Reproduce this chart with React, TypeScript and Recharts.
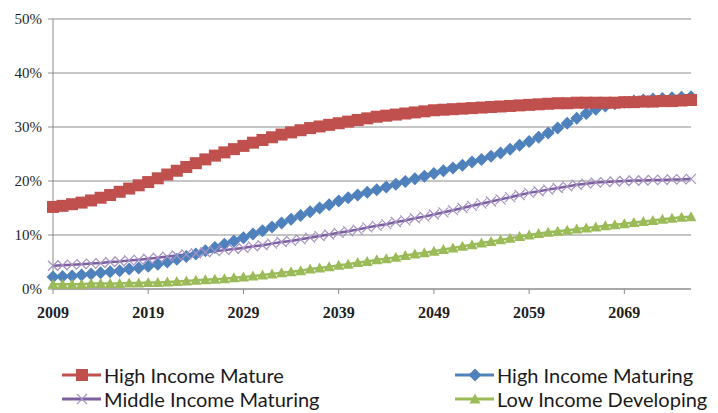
import React from 'react';
import { LineChart, Line, XAxis, YAxis, CartesianGrid } from 'recharts';

// Years on the horizontal axis
const years = [
  2009, 2010, 2011, 2012, 2013, 2014, 2015, 2016, 2017, 2018,
  2019, 2020, 2021, 2022, 2023, 2024, 2025, 2026, 2027, 2028,
  2029, 2030, 2031, 2032, 2033, 2034, 2035, 2036, 2037, 2038,
  2039, 2040, 2041, 2042, 2043, 2044, 2045, 2046, 2047, 2048,
  2049, 2050, 2051, 2052, 2053, 2054, 2055, 2056, 2057, 2058,
  2059, 2060, 2061, 2062, 2063, 2064, 2065, 2066, 2067, 2068,
  2069, 2070, 2071, 2072, 2073, 2074, 2075, 2076,
];

// Share (%) per income group
const highIncomeMature = [
  15.2, 15.4, 15.7, 16.0, 16.4, 16.9, 17.4, 18.0, 18.6, 19.2,
  19.8, 20.5, 21.2, 21.9, 22.6, 23.3, 24.0, 24.7, 25.3, 25.9,
  26.5, 27.1, 27.6, 28.1, 28.6, 29.0, 29.4, 29.8, 30.1, 30.4,
  30.7, 31.0, 31.3, 31.6, 31.9, 32.1, 32.3, 32.5, 32.7, 32.9,
  33.1, 33.2, 33.3, 33.4, 33.5, 33.6, 33.7, 33.8, 33.9, 34.0,
  34.1, 34.2, 34.3, 34.4, 34.4, 34.5, 34.5, 34.5, 34.5, 34.5,
  34.6, 34.6, 34.7, 34.7, 34.8, 34.8, 34.9, 35.0,
];

const highIncomeMaturing = [
  2.2, 2.3, 2.4, 2.6, 2.8, 3.0, 3.2, 3.4, 3.7, 3.9,
  4.2, 4.6, 5.0, 5.5, 6.0, 6.5, 7.1, 7.7, 8.3, 8.9,
  9.5, 10.2, 10.8, 11.5, 12.2, 12.9, 13.6, 14.3, 15.0, 15.6,
  16.3, 16.9, 17.4, 17.9, 18.4, 18.9, 19.4, 19.9, 20.4, 20.9,
  21.4, 21.9, 22.4, 22.9, 23.5, 24.0, 24.6, 25.2, 25.9, 26.6,
  27.3, 28.1, 28.9, 29.8, 30.7, 31.6, 32.5, 33.3, 33.9, 34.3,
  34.6, 34.8, 35.0, 35.2, 35.3, 35.4, 35.5, 35.6,
];

const middleIncomeMaturing = [
  4.3, 4.4, 4.5, 4.6, 4.7, 4.8, 5.0, 5.1, 5.3, 5.4,
  5.6, 5.8, 6.0, 6.2, 6.4, 6.6, 6.8, 7.0, 7.2, 7.4,
  7.6, 7.9, 8.1, 8.4, 8.7, 8.9, 9.2, 9.5, 9.8, 10.1,
  10.4, 10.7, 11.0, 11.4, 11.7, 12.0, 12.4, 12.7, 13.1, 13.4,
  13.8, 14.2, 14.6, 15.0, 15.4, 15.8, 16.2, 16.6, 17.0, 17.4,
  17.8, 18.1, 18.4, 18.7, 19.0, 19.3, 19.5, 19.7, 19.8, 19.9,
  20.0, 20.1, 20.1, 20.2, 20.2, 20.3, 20.3, 20.4,
];

const lowIncomeDeveloping = [
  0.9, 0.9, 0.9, 0.9, 1.0, 1.0, 1.0, 1.0, 1.1, 1.1,
  1.2, 1.2, 1.3, 1.4, 1.5, 1.6, 1.7, 1.8, 1.9, 2.1,
  2.2, 2.4, 2.6, 2.8, 3.0, 3.2, 3.4, 3.7, 3.9, 4.1,
  4.4, 4.6, 4.9, 5.1, 5.4, 5.6, 5.9, 6.2, 6.5, 6.7,
  7.0, 7.3, 7.6, 7.9, 8.2, 8.5, 8.8, 9.1, 9.4, 9.7,
  10.0, 10.3, 10.5, 10.7, 10.9, 11.1, 11.3, 11.5, 11.7, 11.9,
  12.1, 12.3, 12.5, 12.7, 12.9, 13.1, 13.3, 13.4,
];

const xTicks = [2009, 2019, 2029, 2039, 2049, 2059, 2069];
const yTicks = [0, 10, 20, 30, 40, 50];

const RED = '#C0504D';
const BLUE = '#4F81BD';
const PURPLE = '#7D5FA0';
const PURPLE_LIGHT = '#A592C4';
const GREEN = '#9BBB59';
const GRID = '#8C8C8C';
const AXIS_FONT = '"Liberation Serif", "DejaVu Serif", serif';

const data = years.map((year, i) => ({
  year,
  mature: highIncomeMature[i],
  maturing: highIncomeMaturing[i],
  middle: middleIncomeMaturing[i],
  low: lowIncomeDeveloping[i],
}));

type DotProps = { cx?: number; cy?: number; index?: number };
type TickProps = { x?: number; y?: number; payload?: { value: number } };

// Marker shapes, shared by the plot and the legend
const square = (cx: number, cy: number, key?: string) => (
  <rect key={key} x={cx - 6} y={cy - 6} width={12} height={12} fill={RED} />
);
const diamond = (cx: number, cy: number, key?: string) => (
  <path key={key} d={`M${cx},${cy - 6.5}L${cx + 6.5},${cy}L${cx},${cy + 6.5}L${cx - 6.5},${cy}Z`} fill={BLUE} />
);
const cross = (cx: number, cy: number, key?: string) => (
  <path
    key={key}
    d={`M${cx - 5},${cy - 5}L${cx + 5},${cy + 5}M${cx - 5},${cy + 5}L${cx + 5},${cy - 5}`}
    stroke={PURPLE_LIGHT}
    strokeWidth={1.2}
    fill="none"
  />
);
const triangle = (cx: number, cy: number, key?: string) => (
  <path key={key} d={`M${cx},${cy - 5.5}L${cx + 5.5},${cy + 4.5}L${cx - 5.5},${cy + 4.5}Z`} fill={GREEN} />
);

const makeDot = (shape: typeof square, name: string) => (props: DotProps) => {
  const { cx = 0, cy = 0, index = 0 } = props;
  return shape(cx, cy, `${name}-${index}`);
};

const YearTick = ({ x = 0, y = 0, payload }: TickProps) => (
  <text
    x={x}
    y={y + 22}
    textAnchor="middle"
    style={{ fontFamily: AXIS_FONT, fontWeight: 700, fontSize: 16, fill: '#1f1f1f' }}
  >
    {payload?.value}
  </text>
);

const PercentTick = ({ x = 0, y = 0, payload }: TickProps) => (
  <text
    x={x - 4}
    y={y + 5}
    textAnchor="end"
    style={{ fontFamily: AXIS_FONT, fontSize: 15, fill: '#1f1f1f' }}
  >
    {`${payload?.value}%`}
  </text>
);

const legendItems = [
  { label: 'High Income Mature', color: RED, shape: square, left: 62, top: 375 },
  { label: 'High Income Maturing', color: BLUE, shape: diamond, left: 455, top: 375 },
  { label: 'Middle Income Maturing', color: PURPLE, shape: cross, left: 62, top: 399 },
  { label: 'Low Income Developing', color: GREEN, shape: triangle, left: 455, top: 399 },
];

const LegendRow = ({ label, color, shape, left, top }: (typeof legendItems)[number]) => (
  <div
    style={{
      position: 'absolute',
      left,
      top: top - 12,
      height: 24,
      display: 'flex',
      alignItems: 'center',
      whiteSpace: 'nowrap',
    }}
  >
    <svg width={40} height={24} style={{ display: 'block' }}>
      <line x1={0} y1={12} x2={39} y2={12} stroke={color} strokeWidth={3} />
      {shape(20, 12)}
    </svg>
    <span style={{ fontFamily: 'Lato, sans-serif', fontSize: 20, color: '#1a1a1a', marginLeft: 2 }}>
      {label}
    </span>
  </div>
);

const App: React.FC = () => {
  return (
    <div style={{ position: 'absolute', left: 0, top: 0, width: 718, height: 413, background: '#fff' }}>
      <LineChart width={718} height={413} data={data} margin={{ top: 19, right: 27, left: 0, bottom: 84 }}>
        <CartesianGrid vertical={false} stroke={GRID} strokeWidth={1} />
        <XAxis
          dataKey="year"
          type="number"
          domain={[2009, 2076]}
          ticks={xTicks}
          height={40}
          axisLine={{ stroke: GRID }}
          tickLine={{ stroke: GRID }}
          tickSize={5}
          tick={<YearTick />}
        />
        <YAxis
          domain={[0, 50]}
          ticks={yTicks}
          width={53}
          axisLine={{ stroke: GRID }}
          tickLine={{ stroke: GRID }}
          tickSize={5}
          tick={<PercentTick />}
        />
        <Line
          dataKey="maturing"
          stroke={BLUE}
          strokeWidth={2.5}
          dot={makeDot(diamond, 'maturing')}
          activeDot={false}
          isAnimationActive={false}
        />
        <Line
          dataKey="low"
          stroke={GREEN}
          strokeWidth={2.5}
          dot={makeDot(triangle, 'low')}
          activeDot={false}
          isAnimationActive={false}
        />
        <Line
          dataKey="middle"
          stroke={PURPLE}
          strokeWidth={2.5}
          dot={makeDot(cross, 'middle')}
          activeDot={false}
          isAnimationActive={false}
        />
        <Line
          dataKey="mature"
          stroke={RED}
          strokeWidth={2.5}
          dot={makeDot(square, 'mature')}
          activeDot={false}
          isAnimationActive={false}
        />
      </LineChart>
      {legendItems.map((item) => (
        <LegendRow key={item.label} {...item} />
      ))}
    </div>
  );
};

export default App;
